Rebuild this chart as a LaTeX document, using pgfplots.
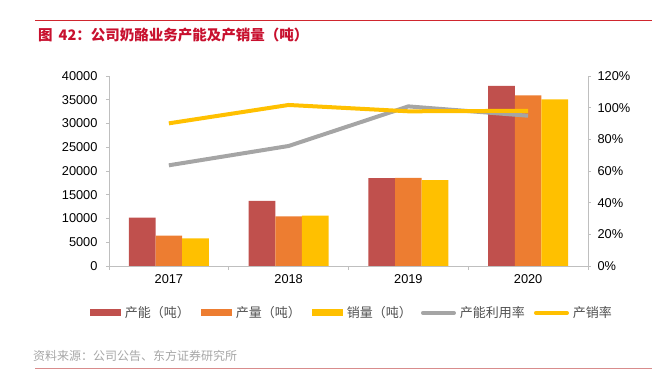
\documentclass[border=0pt]{standalone}
\usepackage{pgfplots}
\pgfplotsset{compat=1.18}
\usepackage{fontspec}
\setmainfont{Liberation Sans}
\newfontfamily\cjk{Noto Sans CJK SC}
\definecolor{cRed}{HTML}{C0504D}
\definecolor{cOrange}{HTML}{ED7D31}
\definecolor{cYellow}{HTML}{FFC000}
\definecolor{cGray}{HTML}{A5A5A5}
\definecolor{axisgray}{HTML}{BFBFBF}
\definecolor{titlered}{HTML}{C8102E}
\definecolor{srcgray}{HTML}{A6A6A6}
\definecolor{linered}{HTML}{D0262E}
\definecolor{linered2}{HTML}{D98C8C}
\definecolor{legtext}{HTML}{505050}
\begin{document}
\begin{tikzpicture}
\path[use as bounding box] (0bp,0bp) rectangle (652bp,375bp);
\draw[linered, line width=1bp] (35bp,354bp) -- (652bp,354bp);
\node[anchor=west, text=titlered, font=\cjk\bfseries\fontsize{14.5bp}{16bp}\selectfont, inner sep=0pt] at (38bp,340bp) {图\hspace{6bp}42：公司奶酪业务产能及产销量（吨）};
\node[anchor=west, text=srcgray, font=\cjk\fontsize{12bp}{14bp}\selectfont, inner sep=0pt] at (33bp,19bp) {资料来源：公司公告、东方证券研究所};
\draw[linered2, line width=0.8bp] (35bp,7bp) -- (652bp,7bp);

\begin{axis}[
  at={(109bp,109bp)}, anchor=south west, scale only axis,
  width=479bp, height=190bp,
  xmin=-0.5, xmax=3.5, ymin=0, ymax=40000,
  ybar=0pt, bar width=26.7bp,
  xtick={0,1,2,3}, xticklabels={2017,2018,2019,2020},
  minor xtick={-0.5,0.5,1.5,2.5,3.5},
  ytick={0,5000,10000,15000,20000,25000,30000,35000,40000},
  scaled y ticks=false,
  /pgf/number format/1000 sep={},
  /pgf/number format/assume math mode=true,
  axis x line=bottom, axis y line=left,
  axis line style={axisgray, line width=0.8bp, -},
  tick style={axisgray, line width=0.8bp},
  major x tick style={draw=none},
  tick align=outside, major tick length=3bp, minor tick length=4bp,
  tick label style={font=\fontsize{12.8bp}{15bp}\selectfont, text=black},
  yticklabel style={xshift=-5bp},
  xticklabel style={yshift=-2bp},
  legend style={at={(-0.0397,-0.247)}, anchor=west, draw=none, fill=none,
    inner sep=0pt, outer sep=0pt,
    legend columns=5, font=\cjk\fontsize{13bp}{15bp}\selectfont, text=legtext,
    nodes={inner sep=0pt},
    /tikz/every odd column/.append style={column sep=4bp},
    /tikz/every even column/.append style={column sep=0bp}},
]
\addplot[fill=cRed, draw=none, legend image code/.code={\fill[cRed] (0bp,-3.5bp) rectangle (31bp,3.5bp);}] coordinates {(0,10200) (1,13700) (2,18500) (3,37900)};
\addlegendentry{\makebox[76bp][l]{产能（吨）}}
\addplot[fill=cOrange, draw=none, legend image code/.code={\fill[cOrange] (0bp,-3.5bp) rectangle (31bp,3.5bp);}] coordinates {(0,6400) (1,10450) (2,18550) (3,35900)};
\addlegendentry{\makebox[76bp][l]{产量（吨）}}
\addplot[fill=cYellow, draw=none, legend image code/.code={\fill[cYellow] (0bp,-3.5bp) rectangle (31bp,3.5bp);}] coordinates {(0,5800) (1,10600) (2,18100) (3,35100)};
\addlegendentry{\makebox[74bp][l]{销量（吨）}}
\addlegendimage{legend image code/.code={\draw[cGray, line width=4bp, line cap=round] (1bp,0bp) -- (32bp,0bp);}}
\addlegendentry{\makebox[74bp][l]{产能利用率}}
\addlegendimage{legend image code/.code={\draw[cYellow, line width=4bp, line cap=round] (1bp,0bp) -- (32bp,0bp);}}
\addlegendentry{产销率}
\end{axis}

\begin{axis}[
  at={(109bp,109bp)}, anchor=south west, scale only axis,
  width=479bp, height=190bp,
  xmin=-0.5, xmax=3.5, ymin=0, ymax=1.2,
  axis x line=none, axis y line=right,
  ytick={0,0.2,0.4,0.6,0.8,1.0,1.2},
  yticklabels={0\%,20\%,40\%,60\%,80\%,100\%,120\%},
  axis line style={axisgray, line width=0.8bp, -},
  tick style={axisgray, line width=0.8bp},
  tick align=outside, major tick length=3bp,
  tick label style={font=\fontsize{12.8bp}{15bp}\selectfont, text=black},
  yticklabel style={xshift=3bp},
]
\addplot[cGray, line width=4bp, no markers] coordinates {(0,0.636) (1,0.758) (2,1.008) (3,0.949)};
\addplot[cYellow, line width=4bp, no markers] coordinates {(0,0.901) (1,1.017) (2,0.977) (3,0.980)};
\end{axis}
\end{tikzpicture}
\end{document}
